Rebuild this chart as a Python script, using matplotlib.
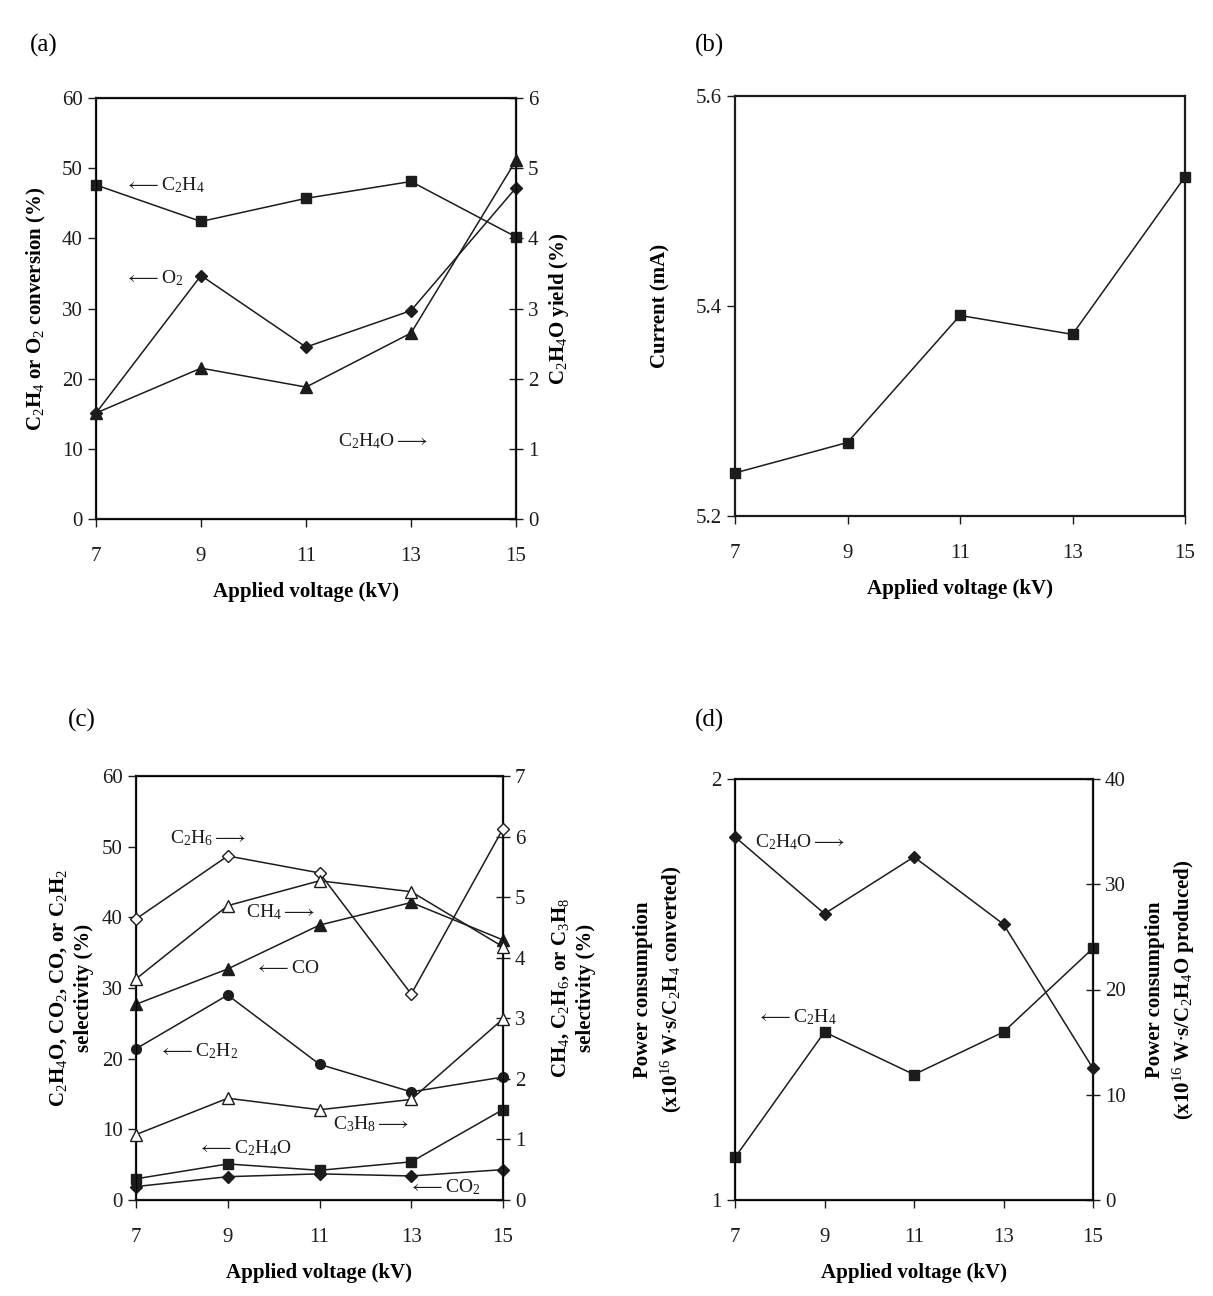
import numpy as np
import matplotlib.pyplot as plt

plt.rcParams['font.family'] = ['Liberation Serif', 'DejaVu Serif']
plt.rcParams['mathtext.fontset'] = 'custom'
plt.rcParams['mathtext.rm'] = 'Liberation Serif'
plt.rcParams['mathtext.it'] = 'Liberation Serif:italic'
plt.rcParams['mathtext.bf'] = 'Liberation Serif:bold'
plt.rcParams['font.size'] = 14

voltage = [7, 9, 11, 13, 15]

# (a) conversion and yield
conv_c2h4 = [47.6, 42.4, 45.7, 48.1, 40.2]
conv_o2 = [15.1, 34.7, 24.5, 29.7, 47.2]
yield_c2h4o = [1.51, 2.15, 1.88, 2.65, 5.11]

# (b) current
current = [5.241, 5.270, 5.391, 5.373, 5.523]

# (c) selectivity, left axis
sel_co = [27.7, 32.7, 38.9, 42.1, 36.8]
sel_c2h2 = [21.4, 29.0, 19.2, 15.3, 17.4]
sel_c2h4o = [3.0, 5.1, 4.2, 5.4, 12.8]
sel_co2 = [1.9, 3.3, 3.7, 3.4, 4.3]
# (c) selectivity, right axis
sel_c2h6 = [4.64, 5.68, 5.40, 3.40, 6.13]
sel_ch4 = [3.65, 4.86, 5.27, 5.09, 4.18]
sel_c3h8 = [1.08, 1.68, 1.49, 1.66, 2.99]

# (d) power consumption
pc_c2h4 = [1.101, 1.399, 1.298, 1.399, 1.598]
pc_c2h4o = [34.5, 27.2, 32.6, 26.2, 12.5]

W, H = 1213, 1296
fig = plt.figure(figsize=(W / 100, H / 100), dpi=100)

ink = '#1c1c1c'
lw = 1.1
ms = 7
LA = r'$\longleftarrow$'
RA = r'$\longrightarrow$'


def rect(l, t, r, b):
    return [l / W, 1 - b / H, (r - l) / W, (b - t) / H]


def style(ax, right=None):
    for s in ax.spines.values():
        s.set_linewidth(1.6)
        s.set_color(ink)
    ax.tick_params(axis='both', direction='out', length=6, width=1, colors=ink, labelsize=15)
    ax.tick_params(axis='x', pad=14)
    ax.set_xlim(7, 15)
    ax.set_xticks(voltage)
    ax.set_xlabel('Applied voltage (kV)', fontsize=15, fontweight='bold', labelpad=12)
    if right is not None:
        right.tick_params(axis='y', direction='inout', length=10, width=1, colors=ink, labelsize=15)


def line(ax, y, marker, filled=True, size=ms):
    ax.plot(voltage, y, color=ink, lw=lw, marker=marker, markersize=size,
            markerfacecolor=ink if filled else 'white', markeredgecolor=ink,
            markeredgewidth=1.0, clip_on=False, zorder=3)


def lab(ax, x, y, s, fs=14):
    ax.text(x, y, s, fontsize=fs, va='center', ha='left', color=ink, zorder=4)


# ---------- (a)
ax = fig.add_axes(rect(96, 98, 516, 519))
ax2 = ax.twinx()
style(ax, ax2)
ax.set_ylim(0, 60)
ax.set_yticks(np.arange(0, 61, 10))
ax2.set_ylim(0, 6)
ax2.set_yticks(np.arange(0, 7, 1))
line(ax, conv_c2h4, 's')
line(ax, conv_o2, 'D', size=6)
line(ax2, yield_c2h4o, '^', size=8)
lab(ax, 7.55, 47.6, LA + 'C$_2$H$_4$')
lab(ax, 7.55, 34.3, LA + 'O$_2$')
lab(ax, 11.6, 11.1, 'C$_2$H$_4$O' + RA)
ax.set_ylabel('C$_2$H$_4$ or O$_2$ conversion (%)', fontsize=15, fontweight='bold', labelpad=10)
ax2.set_ylabel('C$_2$H$_4$O yield (%)', fontsize=15, fontweight='bold', labelpad=6)
fig.text(30 / W, 1 - 45 / H, '(a)', fontsize=18, va='center')

# ---------- (b)
ax = fig.add_axes(rect(735, 96, 1185, 516))
style(ax)
ax.set_ylim(5.2, 5.6)
ax.set_yticks([5.2, 5.4, 5.6])
ax.set_yticklabels(['5.2', '5.4', '5.6'])
line(ax, current, 's')
ax.set_ylabel('Current (mA)', fontsize=15, fontweight='bold', labelpad=18)
fig.text(695 / W, 1 - 45 / H, '(b)', fontsize=18, va='center')

# ---------- (c)
ax = fig.add_axes(rect(136, 776, 503, 1200))
ax2 = ax.twinx()
style(ax, ax2)
ax.set_ylim(0, 60)
ax.set_yticks(np.arange(0, 61, 10))
ax2.set_ylim(0, 7)
ax2.set_yticks(np.arange(0, 8, 1))
line(ax2, sel_c2h6, 'D', filled=False, size=6)
line(ax2, sel_ch4, '^', filled=False, size=8)
line(ax, sel_co, '^', size=8)
line(ax, sel_c2h2, 'o', size=7)
line(ax2, sel_c3h8, '^', filled=False, size=8)
line(ax, sel_c2h4o, 's')
line(ax, sel_co2, 'D', size=6)
lab(ax2, 7.75, 51.2 * 7 / 60, 'C$_2$H$_6$' + RA)
lab(ax2, 9.4, 40.7 * 7 / 60, 'CH$_4$' + RA)
lab(ax, 9.6, 32.7, LA + 'CO')
lab(ax, 7.5, 21.1, LA + 'C$_2$H$_2$')
lab(ax2, 11.3, 10.7 * 7 / 60, 'C$_3$H$_8$' + RA)
lab(ax, 8.35, 7.35, LA + 'C$_2$H$_4$O')
lab(ax, 12.95, 1.84, LA + 'CO$_2$')
ax.set_ylabel('C$_2$H$_4$O, CO$_2$, CO, or C$_2$H$_2$\nselectivity (%)',
              fontsize=15, fontweight='bold', labelpad=6, linespacing=1.3)
ax2.set_ylabel('CH$_4$, C$_2$H$_6$, or C$_3$H$_8$\nselectivity (%)',
               fontsize=15, fontweight='bold', labelpad=18, linespacing=1.3)
fig.text(68 / W, 1 - 720 / H, '(c)', fontsize=18, va='center')

# ---------- (d)
ax = fig.add_axes(rect(735, 779, 1093, 1200))
ax2 = ax.twinx()
style(ax, ax2)
ax.set_ylim(1, 2)
ax.set_yticks([1, 2])
ax2.set_ylim(0, 40)
ax2.set_yticks(np.arange(0, 41, 10))
line(ax, pc_c2h4, 's')
line(ax2, pc_c2h4o, 'D', size=6)
lab(ax, 7.45, 1.85, 'C$_2$H$_4$O' + RA)
lab(ax, 7.5, 1.435, LA + 'C$_2$H$_4$')
ax.set_ylabel('Power consumption\n(x10$^{16}$ W$\\bullet$s/C$_2$H$_4$ converted)',
              fontsize=15, fontweight='bold', labelpad=20, linespacing=1.3)
ax2.set_ylabel('Power consumption\n(x10$^{16}$ W$\\bullet$s/C$_2$H$_4$O produced)',
               fontsize=15, fontweight='bold', labelpad=14, linespacing=1.3)
fig.text(695 / W, 1 - 720 / H, '(d)', fontsize=18, va='center')

fig.savefig('out.png', dpi=100)
